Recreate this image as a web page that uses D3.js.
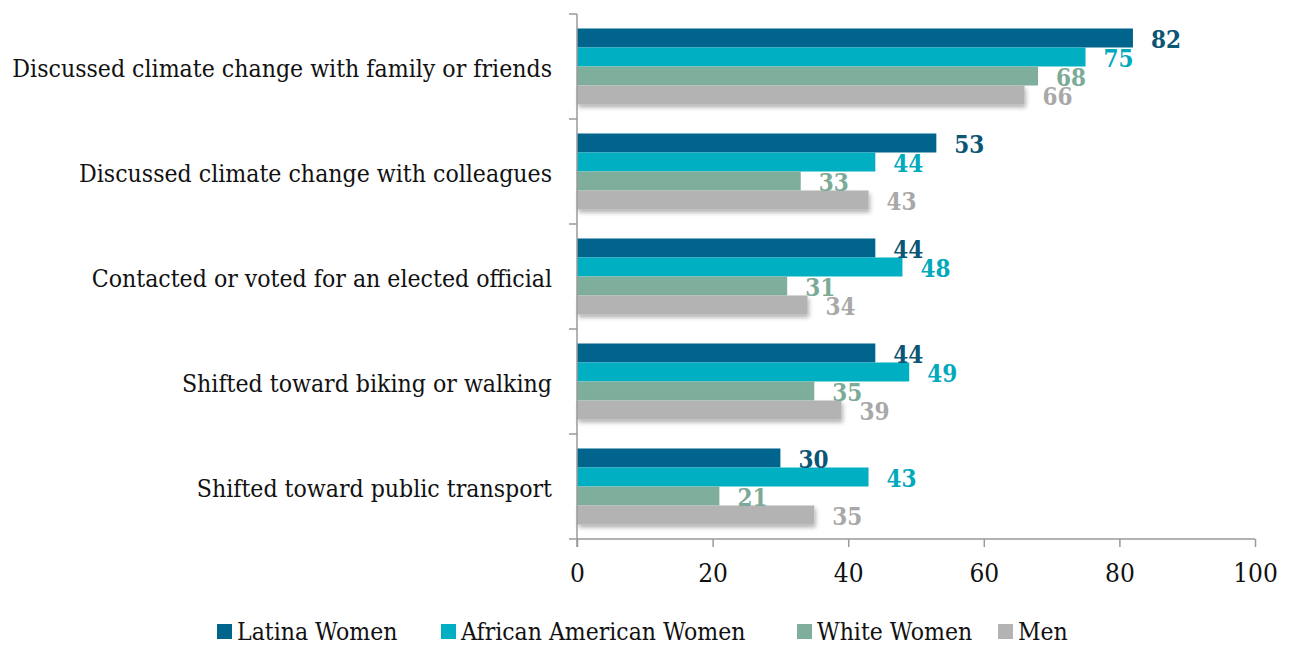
<!DOCTYPE html>
<html><head><meta charset="utf-8">
<script src="https://cdn.jsdelivr.net/npm/d3@7"></script>
<style>
html,body{margin:0;padding:0;background:#fff;}
svg{display:block;}
</style></head>
<body>
<svg id="chart" width="1289" height="646"></svg>
<script>
const categories = [
  "Discussed climate change with family or friends",
  "Discussed climate change with colleagues",
  "Contacted or voted for an elected official",
  "Shifted toward biking or walking",
  "Shifted toward public transport"
];
const seriesNames = ["Latina Women", "African American Women", "White Women", "Men"];
const latinaWomen = [82, 53, 44, 44, 30];
const africanAmericanWomen = [75, 44, 48, 49, 43];
const whiteWomen = [68, 33, 31, 35, 21];
const men = [66, 43, 34, 39, 35];
const xTicks = [0, 20, 40, 60, 80, 100];

(function(){
const seriesValues = [latinaWomen, africanAmericanWomen, whiteWomen, men];
const barColors = ["#00648C", "#00AFC1", "#7FAE9C", "#B3B3B3"];
const labelColors = ["#0B5575", "#00A9BC", "#7BAA97", "#A8A8A8"];
const FONT = "'DejaVu Serif', 'Liberation Serif', serif";

const svg = d3.select("#chart");
const mLeft = 577, mRight = 1255, mTop = 14, mBottom = 539;

const defs = svg.append("defs");
const f = defs.append("filter").attr("id","sh").attr("x","-5%").attr("y","-20%").attr("width","115%").attr("height","170%");
f.append("feDropShadow").attr("dx",1.5).attr("dy",3).attr("stdDeviation",2).attr("flood-color","#000").attr("flood-opacity",0.3);

const x = d3.scaleLinear().domain([0, 100]).range([mLeft, mRight]);
const y = d3.scaleBand().domain(categories).range([mTop, mBottom]).paddingInner(0.276).paddingOuter(0.138);
const ySub = d3.scaleBand().domain(seriesNames).range([0, y.bandwidth()]);

const groups = svg.append("g").selectAll("g").data(categories).join("g")
  .attr("transform", d => `translate(0,${y(d)})`);

seriesNames.forEach((s, si) => {
  groups.append("rect")
    .attr("x", x(0))
    .attr("y", ySub(s))
    .attr("width", (d, i) => x(seriesValues[si][i]) - x(0))
    .attr("height", ySub.bandwidth())
    .attr("fill", barColors[si])
    .attr("filter", si === 3 ? "url(#sh)" : null);
});
seriesNames.forEach((s, si) => {
  groups.append("text")
    .attr("x", (d, i) => x(seriesValues[si][i]) + 18)
    .attr("y", ySub(s) + ySub.bandwidth() / 2 + 10)
    .attr("font-family", FONT)
    .attr("font-stretch", "condensed")
    .attr("font-weight", "bold")
    .attr("font-size", 24)
    .attr("fill", labelColors[si])
    .text((d, i) => seriesValues[si][i]);
});

// Y axis
const halfGap = y.step() * y.paddingInner() / 2;
const yTickPos = [mTop].concat(categories.map(c => y(c) + y.bandwidth() + halfGap));
yTickPos[yTickPos.length - 1] = mBottom;
const yAxisG = svg.append("g");
yAxisG.append("line").attr("x1", mLeft).attr("x2", mLeft).attr("y1", mTop).attr("y2", mBottom + 8).attr("stroke", "#9A9A9A").attr("stroke-width", 1.5);
yAxisG.selectAll(".yt").data(yTickPos).join("line")
  .attr("x1", mLeft - 8).attr("x2", mLeft).attr("y1", d => d).attr("y2", d => d)
  .attr("stroke", "#9A9A9A").attr("stroke-width", 1.5);
const catLabels = svg.append("g").selectAll("text").data(categories).join("text")
  .attr("x", 552)
  .attr("y", d => y(d) + y.bandwidth() / 2 + 10)
  .attr("text-anchor", "end")
  .attr("font-family", FONT)
  .attr("font-stretch", "condensed")
  .attr("font-size", 20)
  .attr("fill", "#111")
  .text(d => d);
const w0 = catLabels.node().getComputedTextLength();
if (w0 > 0) catLabels.attr("font-size", Math.min(26, 20 * 540 / w0));

// X axis
const xAxis = d3.axisBottom(x).tickValues(xTicks).tickSize(8).tickPadding(27).tickFormat(d3.format("d"));
const xg = svg.append("g").attr("transform", `translate(0,${mBottom})`).call(xAxis);
xg.select(".domain").attr("stroke", "#9A9A9A").attr("stroke-width", 1.5).attr("d", `M${mLeft},0H${mRight}`);
xg.selectAll(".tick line").attr("stroke", "#9A9A9A").attr("stroke-width", 1.5);
xg.selectAll(".tick text")
  .attr("dy", "0.3em")
  .attr("font-family", FONT)
  .attr("font-stretch", "condensed")
  .attr("font-size", 26)
  .attr("fill", "#111");

// Legend
const legendX = [217, 441, 797, 998];
const lg = svg.append("g").selectAll("g").data(seriesNames).join("g")
  .attr("transform", (d, i) => `translate(${legendX[i]},0)`);
lg.append("rect").attr("x", 0).attr("y", 624).attr("width", 15).attr("height", 15).attr("fill", (d, i) => barColors[i]);
lg.append("text").attr("x", 20).attr("y", 640)
  .attr("font-family", FONT)
  .attr("font-stretch", "condensed")
  .attr("font-size", 24.5)
  .attr("fill", "#111")
  .text(d => d);
})();
</script>
</body></html>
